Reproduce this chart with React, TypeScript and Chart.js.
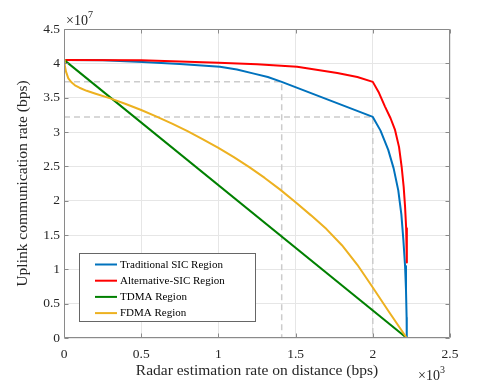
import React, { useEffect, useRef } from "react";
import { Chart, registerables } from "chart.js";

Chart.register(...registerables);

// x in units of 10^3 bps, y in units of 10^7 bps
const xTicks = [0, 0.5, 1, 1.5, 2, 2.5];
const yTicks = [0, 0.5, 1, 1.5, 2, 2.5, 3, 3.5, 4, 4.5];

const seriesNames = [
  "Traditional SIC Region",
  "Alternative-SIC Region",
  "TDMA Region",
  "FDMA Region",
];
const seriesColors = ["#0072BD", "#FF0000", "#008000", "#EDB120"];

const tradX = [0, 0.25, 0.51, 0.75, 1.01, 1.12, 1.23, 1.32, 1.41, 2.0, 2.05, 2.1, 2.135, 2.165, 2.185, 2.198, 2.209, 2.215, 2.219, 2.22];
const tradY = [4.05, 4.045, 4.02, 3.99, 3.95, 3.91, 3.85, 3.8, 3.73, 3.22, 3.02, 2.74, 2.47, 2.15, 1.8, 1.43, 1.05, 0.7, 0.3, 0];

const altX = [0, 0.5, 1.0, 1.25, 1.51, 1.77, 1.9, 2.0, 2.04, 2.079, 2.115, 2.144, 2.17, 2.187, 2.2, 2.209, 2.216, 2.22, 2.221];
const altY = [4.05, 4.045, 4.01, 3.985, 3.95, 3.86, 3.8, 3.73, 3.57, 3.37, 3.2, 3.03, 2.78, 2.49, 2.2, 1.91, 1.6, 1.33, 1.1];

const tdmaX = [0, 2.22];
const tdmaY = [4.05, 0];

const fdmaX = [0, 0.005, 0.013, 0.028, 0.05, 0.071, 0.1, 0.147, 0.2, 0.3, 0.4, 0.5, 0.6, 0.7, 0.8, 0.9, 1.0, 1.1, 1.2, 1.3, 1.4, 1.5, 1.6, 1.7, 1.8, 1.9, 2.0, 2.1, 2.22];
const fdmaY = [4.05, 3.97, 3.88, 3.78, 3.72, 3.68, 3.645, 3.6, 3.56, 3.49, 3.408, 3.32, 3.225, 3.122, 3.012, 2.894, 2.768, 2.633, 2.488, 2.331, 2.161, 1.976, 1.786, 1.586, 1.351, 1.066, 0.736, 0.396, 0];

const dashAX = [0, 1.41, 1.41];
const dashAY = [3.73, 3.73, 0];
const dashBX = [0, 2.0, 2.0];
const dashBY = [3.22, 3.22, 0];

const pts = (xs: number[], ys: number[]) => xs.map((x, i) => ({ x, y: ys[i] }));

const SERIF = '"Liberation Serif", "Times New Roman", serif';
const FRAME = "#8a8a8a";

const framePlugin = {
  id: "matlabFrame",
  afterDraw(chart: any) {
    const { ctx, chartArea: a, scales } = chart;
    ctx.save();
    const l = Math.round(a.left) + 0.5;
    const t = Math.round(a.top) + 0.5;
    const r = Math.round(a.right) - 0.5;
    const b = Math.round(a.bottom) - 0.5;
    ctx.strokeStyle = FRAME;
    ctx.lineWidth = 1;
    ctx.beginPath();
    ctx.moveTo(l, t);
    ctx.lineTo(r, t);
    ctx.lineTo(r, b);
    ctx.lineTo(l, b);
    ctx.closePath();
    ctx.stroke();
    const tl = 4;
    ctx.beginPath();
    xTicks.forEach((v) => {
      const px = Math.round(scales.x.getPixelForValue(v)) + 0.5;
      ctx.moveTo(px, b);
      ctx.lineTo(px, b - tl);
      ctx.moveTo(px, t);
      ctx.lineTo(px, t + tl);
    });
    yTicks.forEach((v) => {
      const py = Math.round(scales.y.getPixelForValue(v)) + 0.5;
      ctx.moveTo(l, py);
      ctx.lineTo(l + tl, py);
      ctx.moveTo(r, py);
      ctx.lineTo(r - tl, py);
    });
    ctx.stroke();

    // exponent labels
    ctx.fillStyle = "#262626";
    ctx.textBaseline = "alphabetic";
    ctx.textAlign = "left";
    ctx.font = `14px ${SERIF}`;
    ctx.fillText("×10", 66, 25);
    let w = ctx.measureText("×10").width;
    ctx.font = `10px ${SERIF}`;
    ctx.fillText("7", 66 + w, 18);
    ctx.font = `14px ${SERIF}`;
    ctx.fillText("×10", 418, 380);
    w = ctx.measureText("×10").width;
    ctx.font = `10px ${SERIF}`;
    ctx.fillText("3", 418 + w, 373);

    // legend
    const lx = 79.5, ly = 253.5, lw = 176, lh = 68;
    ctx.fillStyle = "#ffffff";
    ctx.fillRect(lx, ly, lw, lh);
    ctx.strokeStyle = "#666666";
    ctx.lineWidth = 1;
    ctx.strokeRect(lx, ly, lw, lh);
    ctx.font = `11px ${SERIF}`;
    ctx.textBaseline = "middle";
    seriesNames.forEach((name, i) => {
      const y = 264.5 + i * 16.2;
      ctx.strokeStyle = seriesColors[i];
      ctx.lineWidth = 2;
      ctx.beginPath();
      ctx.moveTo(95, y);
      ctx.lineTo(117, y);
      ctx.stroke();
      ctx.fillStyle = "#000000";
      ctx.fillText(name, 120, y + 0.5);
    });
    ctx.restore();
  },
};

export default function App() {
  const ref = useRef<HTMLCanvasElement | null>(null);
  useEffect(() => {
    if (!ref.current) return;
    const line = (data: any, color: string, order: number) => ({
      data,
      borderColor: color,
      backgroundColor: color,
      borderWidth: 2,
      pointRadius: 0,
      tension: 0,
      fill: false,
      order,
      borderJoinStyle: "round",
      borderCapStyle: "butt",
    });
    const dash = (data: any) => ({
      data,
      borderColor: "#cccccc",
      borderWidth: 1.5,
      borderDash: [6, 4],
      pointRadius: 0,
      fill: false,
      order: 10,
    });
    const chart = new Chart(ref.current, {
      type: "line",
      data: {
        datasets: [
          line(pts(tradX, tradY), seriesColors[0], 5) as any,
          line(pts(altX, altY), seriesColors[1], 4) as any,
          line(pts(tdmaX, tdmaY), seriesColors[2], 3) as any,
          line(pts(fdmaX, fdmaY), seriesColors[3], 2) as any,
          dash(pts(dashAX, dashAY)) as any,
          dash(pts(dashBX, dashBY)) as any,
        ],
      },
      options: {
        animation: false,
        responsive: false,
        devicePixelRatio: 1,
        layout: { padding: { top: 29, right: 48, left: 0, bottom: 0 } },
        plugins: { legend: { display: false }, tooltip: { enabled: false } },
        scales: {
          x: {
            type: "linear",
            min: 0,
            max: 2.5,
            afterFit: (s: any) => { s.height = 45; },
            afterBuildTicks: (s: any) => { s.ticks = xTicks.map((v) => ({ value: v })); },
            grid: { color: "#e6e6e6", drawTicks: false },
            border: { display: false },
            ticks: {
              padding: 8,
              color: "#262626",
              font: { family: SERIF, size: 13.5 },
              maxRotation: 0,
              callback: (v: any) => String(v),
            },
            title: {
              display: true,
              text: "Radar estimation rate on distance (bps)",
              color: "#262626",
              font: { family: SERIF, size: 15.5 },
              padding: { top: 0, bottom: 3 },
            },
          },
          y: {
            type: "linear",
            min: 0,
            max: 4.5,
            afterFit: (s: any) => { s.width = 64; },
            afterBuildTicks: (s: any) => { s.ticks = yTicks.map((v) => ({ value: v })); },
            grid: { color: "#e6e6e6", drawTicks: false },
            border: { display: false },
            ticks: {
              padding: 4,
              color: "#262626",
              font: { family: SERIF, size: 13.5 },
              callback: (v: any) => String(v),
            },
            title: {
              display: true,
              text: "Uplink communication rate (bps)",
              color: "#262626",
              font: { family: SERIF, size: 15.5 },
              padding: { top: 14, bottom: 0 },
            },
          },
        },
      },
      plugins: [framePlugin as any],
    });
    return () => chart.destroy();
  }, []);
  return (
    <div style={{ position: "absolute", left: 0, top: 0, width: 498, height: 383, background: "#fff" }}>
      <canvas ref={ref} width={498} height={383} style={{ display: "block", width: 498, height: 383 }} />
    </div>
  );
}
